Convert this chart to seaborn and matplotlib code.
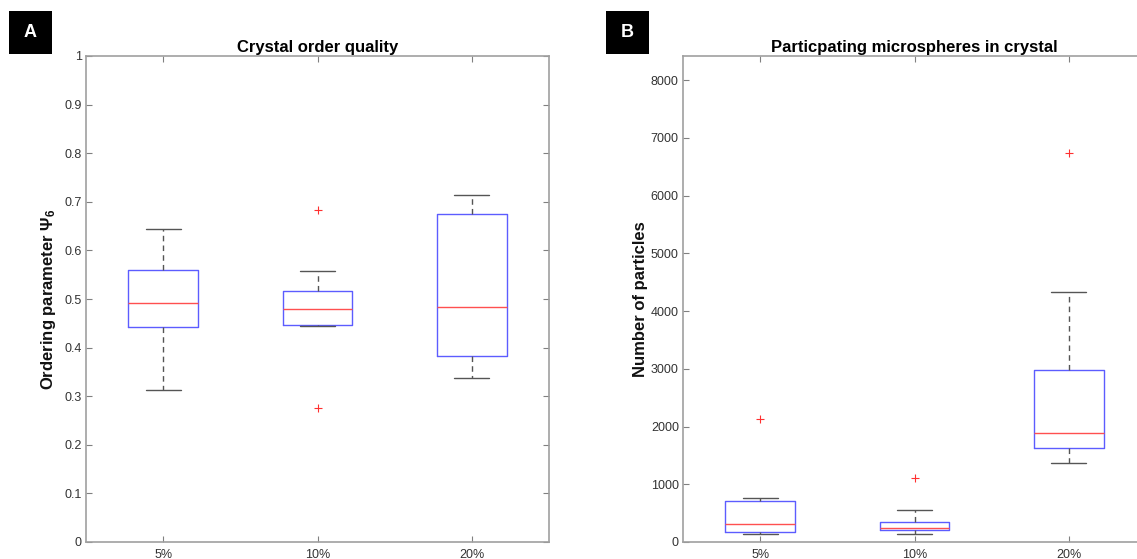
import numpy as np
import pandas as pd
import matplotlib
matplotlib.use("Agg")
import matplotlib.pyplot as plt
from matplotlib.patches import Rectangle
import seaborn as sns

# groups (volume fraction)
groups = ['5%', '10%', '20%']

# panel A: ordering parameter psi6 per sample
psi6_5 = [0.312, 0.443, 0.491, 0.559, 0.644]
psi6_10 = [0.275, 0.444, 0.446, 0.462, 0.479, 0.500, 0.516, 0.557, 0.683]
psi6_20 = [0.337, 0.383, 0.483, 0.675, 0.714]

# panel B: number of participating particles per sample
npart_5 = [138, 150, 167, 240, 317, 520, 715, 755, 2138]
npart_10 = [133, 180, 202, 220, 236, 300, 342, 546, 1112]
npart_20 = [1366, 1500, 1631, 1750, 1890, 2400, 2983, 4335, 6741]


def long_frame(values_by_group):
    # stack the group arrays into a long dataframe for seaborn
    rows = []
    for g, vals in zip(groups, values_by_group):
        for v in vals:
            rows.append((g, v))
    return pd.DataFrame(rows, columns=['group', 'value'])


df_a = long_frame([psi6_5, psi6_10, psi6_20])
df_b = long_frame([npart_5, npart_10, npart_20])

sns.set_style('white')
plt.rcParams['font.family'] = ['Liberation Sans', 'DejaVu Sans']
plt.rcParams['mathtext.fontset'] = 'custom'
plt.rcParams['mathtext.rm'] = 'Liberation Sans'
plt.rcParams['mathtext.bf'] = 'Liberation Sans:bold'

W, H = 1137, 559
fig = plt.figure(figsize=(W / 100, H / 100), dpi=100)

ax_w = 463 / W
ax_h = 486 / H
ax_b = 17 / H
ax_a = fig.add_axes([86 / W, ax_b, ax_w, ax_h])
ax_bb = fig.add_axes([683 / W, ax_b, ax_w, ax_h])

box_kw = dict(
    width=0.45, whis=1.5, fill=False,
    boxprops=dict(color='#5c5cff', linewidth=1.0),
    medianprops=dict(color='#ff5050', linewidth=1.0),
    whiskerprops=dict(color='#555555', linewidth=1.0, linestyle=(0, (4, 3))),
    capprops=dict(color='#555555', linewidth=1.0),
    flierprops=dict(marker='+', markeredgecolor='#ff3030', markerfacecolor='none',
                    markersize=6, markeredgewidth=0.8),
)

sns.boxplot(data=df_a, x='group', y='value', order=groups, ax=ax_a, **box_kw)
sns.boxplot(data=df_b, x='group', y='value', order=groups, ax=ax_bb, **box_kw)

ax_a.set_ylim(0, 1)
ax_a.set_yticks(np.arange(0, 1.01, 0.1))
ax_a.set_yticklabels(['0', '0.1', '0.2', '0.3', '0.4', '0.5', '0.6', '0.7', '0.8', '0.9', '1'])
ax_bb.set_ylim(0, 8420)
ax_bb.set_yticks(np.arange(0, 8001, 1000))

title_kw = dict(fontsize=12, fontweight='bold', color='black', pad=3)
ax_a.set_title('Crystal order quality', **title_kw)
ax_bb.set_title('Particpating microspheres in crystal', **title_kw)
ax_a.set_ylabel(r'Ordering parameter $\mathbf{\Psi_6}$', fontsize=12, fontweight='bold',
                color='#111111', labelpad=5)
ax_bb.set_ylabel('Number of particles', fontsize=12, fontweight='bold',
                 color='#111111', labelpad=2)

for ax in (ax_a, ax_bb):
    ax.set_xlim(-0.5, 2.5)
    ax.set_xlabel('')
    ax.tick_params(direction='in', left=True, bottom=True, top=True, right=True,
                   length=4, width=0.8, color='#808080', labelsize=9,
                   labelcolor='#333333', pad=3)
    ax.tick_params(axis='x', pad=5)
    for sp in ax.spines.values():
        sp.set_visible(True)
        sp.set_color('#a0a0a0')
        sp.set_linewidth(1.2)

# panel letters
for letter, x0, y0 in [('A', 9, 11), ('B', 606, 11)]:
    fig.add_artist(Rectangle((x0 / W, 1 - (y0 + 43) / H), 43 / W, 43 / H,
                             transform=fig.transFigure, facecolor='black', edgecolor='none'))
    fig.text((x0 + 21.5) / W, 1 - (y0 + 21.5) / H, letter, color='white',
             fontsize=13, fontweight='bold', ha='center', va='center')

fig.savefig('out.png', dpi=100)
